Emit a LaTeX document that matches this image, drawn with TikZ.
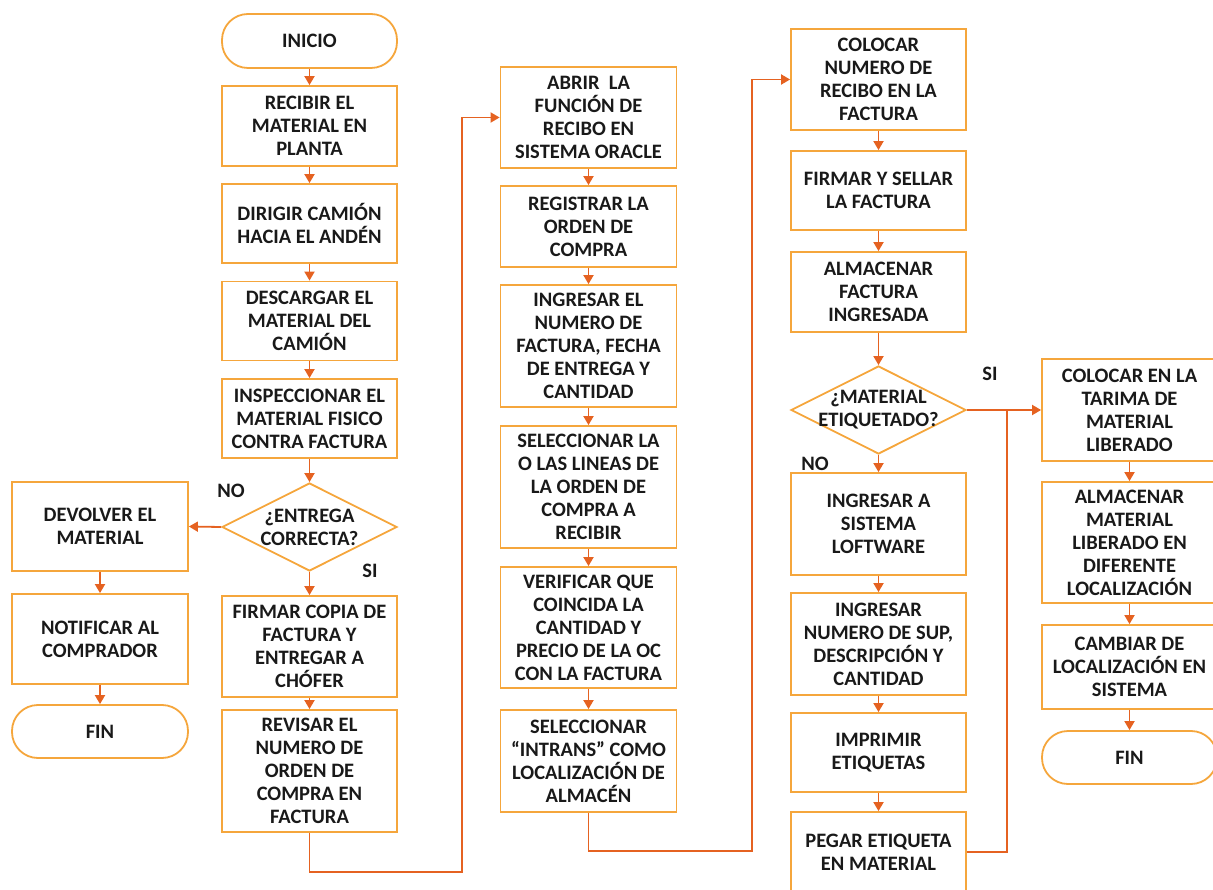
\documentclass[tikz,border=0pt]{standalone}
\usepackage{fontspec}
\setmainfont{Carlito}
\usetikzlibrary{arrows.meta,shapes.geometric}
\definecolor{boxline}{RGB}{245,166,60}
\definecolor{flow}{RGB}{229,98,33}
\tikzset{
  txt/.style={font=\fontsize{20.5}{23}\selectfont\bfseries, text=black!90, align=center},
  proc/.style={txt, draw=boxline, line width=1.8pt, rectangle, inner sep=0pt},
  term/.style={proc, rounded corners=26pt},
  dec/.style={draw=boxline, line width=1.8pt, diamond, inner sep=0pt},
  arr/.style={draw=flow, line width=1.8pt, -{Triangle[length=9pt,width=10pt]}},
  link/.style={draw=flow, line width=1.8pt},
  lbl/.style={txt}
}
\begin{document}
\begin{tikzpicture}[x=1pt,y=-1pt]
\useasboundingbox (0,0) rectangle (1213,890);

% column 1: rejected delivery
\node[proc, minimum width=176, minimum height=89] (dev) at (100,526.5) {DEVOLVER EL\\MATERIAL};
\node[proc, minimum width=176, minimum height=90] (notif) at (100,639) {NOTIFICAR AL\\COMPRADOR};
\node[term, minimum width=176, minimum height=53] (fin1) at (100,731.5) {FIN};

% column 2: reception at the dock
\node[term, minimum width=175, minimum height=54] (inicio) at (309.5,41) {INICIO};
\node[proc, minimum width=175, minimum height=80] (recibir) at (309.5,126) {RECIBIR EL\\MATERIAL EN\\PLANTA};
\node[proc, minimum width=175, minimum height=79] (dirigir) at (309.5,223.5) {DIRIGIR CAMIÓN\\HACIA EL ANDÉN};
\node[proc, minimum width=175, minimum height=79] (descargar) at (309.5,321) {DESCARGAR EL\\MATERIAL DEL\\CAMIÓN};
\node[proc, minimum width=175, minimum height=79] (inspec) at (309.5,418.5) {INSPECCIONAR EL\\MATERIAL FISICO\\CONTRA FACTURA};
\node[dec, minimum width=175, minimum height=88] (entrega) at (309.5,527) {};
\node[txt] (entregat) at (entrega.center) {¿ENTREGA\\CORRECTA?};
\node[proc, minimum width=175, minimum height=101] (firmar) at (309.5,646.5) {FIRMAR COPIA DE\\FACTURA Y\\ENTREGAR A\\CHÓFER};
\node[proc, minimum width=175, minimum height=122] (revisar) at (309.5,771) {REVISAR EL\\NUMERO DE\\ORDEN DE\\COMPRA EN\\FACTURA};

% column 3: system registration
\node[proc, minimum width=176, minimum height=101] (abrir) at (588.5,117.5) {ABRIR~~LA\\FUNCIÓN DE\\RECIBO EN\\SISTEMA ORACLE};
\node[proc, minimum width=176, minimum height=81] (registrar) at (588.5,226.5) {REGISTRAR LA\\ORDEN DE\\COMPRA};
\node[proc, minimum width=176, minimum height=122] (ingresar) at (588.5,346) {INGRESAR EL\\NUMERO DE\\FACTURA, FECHA\\DE ENTREGA Y\\CANTIDAD};
\node[proc, minimum width=176, minimum height=122] (lineas) at (588.5,487) {SELECCIONAR LA\\O LAS LINEAS DE\\LA ORDEN DE\\COMPRA A\\RECIBIR};
\node[proc, minimum width=176, minimum height=121] (verificar) at (588.5,627.5) {VERIFICAR QUE\\COINCIDA LA\\CANTIDAD Y\\PRECIO DE LA OC\\CON LA FACTURA};
\node[proc, minimum width=176, minimum height=102] (intrans) at (588.5,761) {SELECCIONAR\\“INTRANS” COMO\\LOCALIZACIÓN DE\\ALMACÉN};

% column 4: invoice and labels
\node[proc, minimum width=175, minimum height=101] (colocar) at (878.5,79.5) {COLOCAR\\NUMERO DE\\RECIBO EN LA\\FACTURA};
\node[proc, minimum width=175, minimum height=79] (sellar) at (878.5,190.5) {FIRMAR Y SELLAR\\LA FACTURA};
\node[proc, minimum width=175, minimum height=80] (almfact) at (878.5,292) {ALMACENAR\\FACTURA\\INGRESADA};
\node[dec, minimum width=175, minimum height=88] (etiq) at (878.5,410) {};
\node[txt] (etiqt) at (etiq.center) {¿MATERIAL\\ETIQUETADO?};
\node[proc, minimum width=175, minimum height=102] (loft) at (878.5,524) {INGRESAR A\\SISTEMA\\LOFTWARE};
\node[proc, minimum width=175, minimum height=102] (sup) at (878.5,644) {INGRESAR\\NUMERO DE SUP,\\DESCRIPCIÓN Y\\CANTIDAD};
\node[proc, minimum width=175, minimum height=79] (imprimir) at (878.5,752.5) {IMPRIMIR\\ETIQUETAS};
\node[proc, minimum width=175, minimum height=80] (pegar) at (878.5,852) {PEGAR ETIQUETA\\EN MATERIAL};

% column 5: released material
\node[proc, minimum width=175, minimum height=102] (tarima) at (1129.5,410) {COLOCAR EN LA\\TARIMA DE\\MATERIAL\\LIBERADO};
\node[proc, minimum width=175, minimum height=121] (almlib) at (1129.5,542.5) {ALMACENAR\\MATERIAL\\LIBERADO EN\\DIFERENTE\\LOCALIZACIÓN};
\node[proc, minimum width=175, minimum height=84] (cambiar) at (1129.5,667) {CAMBIAR DE\\LOCALIZACIÓN EN\\SISTEMA};
\node[term, minimum width=175, minimum height=53] (fin2) at (1129.5,757.5) {FIN};

% decision labels
\node[lbl] (no1) at (231,491) {NO};
\node[lbl] (si1) at (370,571) {SI};
\node[lbl] (si2) at (990,374) {SI};
\node[lbl] (no2) at (815,464) {NO};

% routing points
\coordinate (r1) at (462,872);
\coordinate (r2) at (752,851);
\coordinate (r3) at (1007,410);

% straight flow
\draw[arr] (inicio) -- (recibir);
\draw[arr] (recibir) -- (dirigir);
\draw[arr] (dirigir) -- (descargar);
\draw[arr] (descargar) -- (inspec);
\draw[arr] (inspec) -- (entrega);
\draw[arr] (entrega) -- (firmar);
\draw[arr] (firmar) -- (revisar);
\draw[arr] (entrega.west) -- (dev.east);
\draw[arr] (dev) -- (notif);
\draw[arr] (notif) -- (fin1);

\draw[arr] (abrir) -- (registrar);
\draw[arr] (registrar) -- (ingresar);
\draw[arr] (ingresar) -- (lineas);
\draw[arr] (lineas) -- (verificar);
\draw[arr] (verificar) -- (intrans);

\draw[arr] (colocar) -- (sellar);
\draw[arr] (sellar) -- (almfact);
\draw[arr] (almfact) -- (etiq);
\draw[arr] (etiq) -- (loft);
\draw[arr] (loft) -- (sup);
\draw[arr] (sup) -- (imprimir);
\draw[arr] (imprimir) -- (pegar);

\draw[arr] (tarima) -- (almlib);
\draw[arr] (almlib) -- (cambiar);
\draw[arr] (cambiar) -- (fin2);

% column-to-column connectors
\draw[arr] (revisar.south) |- (r1) |- (abrir.west);
\draw[arr] (intrans.south) |- (r2) |- (colocar.west);
\draw[arr] (etiq.east) -- (tarima.west);
\draw[link] (pegar.east) -| (r3);
\end{tikzpicture}
\end{document}
